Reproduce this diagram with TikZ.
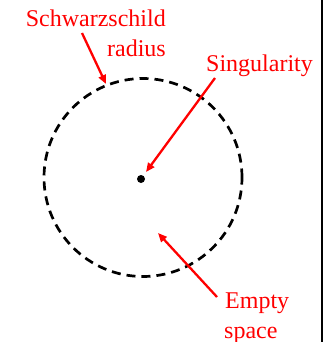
\documentclass[tikz,border=0pt]{standalone}
\usepackage{fontspec}
\setmainfont{Liberation Serif}
\usetikzlibrary{arrows.meta}
\begin{document}
\begin{tikzpicture}[x=1pt,y=-1pt,
  lbl/.style={text=red,inner sep=0pt,font=\fontsize{24}{28}\selectfont},
  redarrow/.style={draw=red,line width=2.3pt,-{Triangle[length=9pt,width=7.5pt]}},
  horizon/.style={draw=black,line width=2.7pt,dash pattern=on 9pt off 6pt}]
\useasboundingbox (0,0) rectangle (329,342);
\draw[line width=2.7pt] (322,0) -- (322,342);
\node[horizon,circle,minimum size=198pt,inner sep=0pt] (hz) at (143,177.5) {};
\node[circle,fill=black,minimum size=8pt,inner sep=0pt] (dot) at (141,179) {};
\node[lbl,anchor=base east] (sch) at (166,27) {Schwarzschild};
\node[lbl,anchor=base east] (rad) at (166,57) {radius};
\node[lbl,anchor=base west] (sing) at (206,72) {Singularity};
\node[lbl,anchor=base west] (emp) at (225,308) {Empty};
\node[lbl,anchor=base west] (spc) at (224,338) {space};
\coordinate (a1) at (82,33);
\coordinate (a1t) at (106,84);
\coordinate (a2) at (215,78);
\coordinate (a2t) at (146,172);
\coordinate (a3) at (217,297);
\coordinate (a3t) at (158,233);
\draw[redarrow] (a1) -- (a1t);
\draw[redarrow] (a2) -- (a2t);
\draw[redarrow] (a3) -- (a3t);
\end{tikzpicture}
\end{document}
